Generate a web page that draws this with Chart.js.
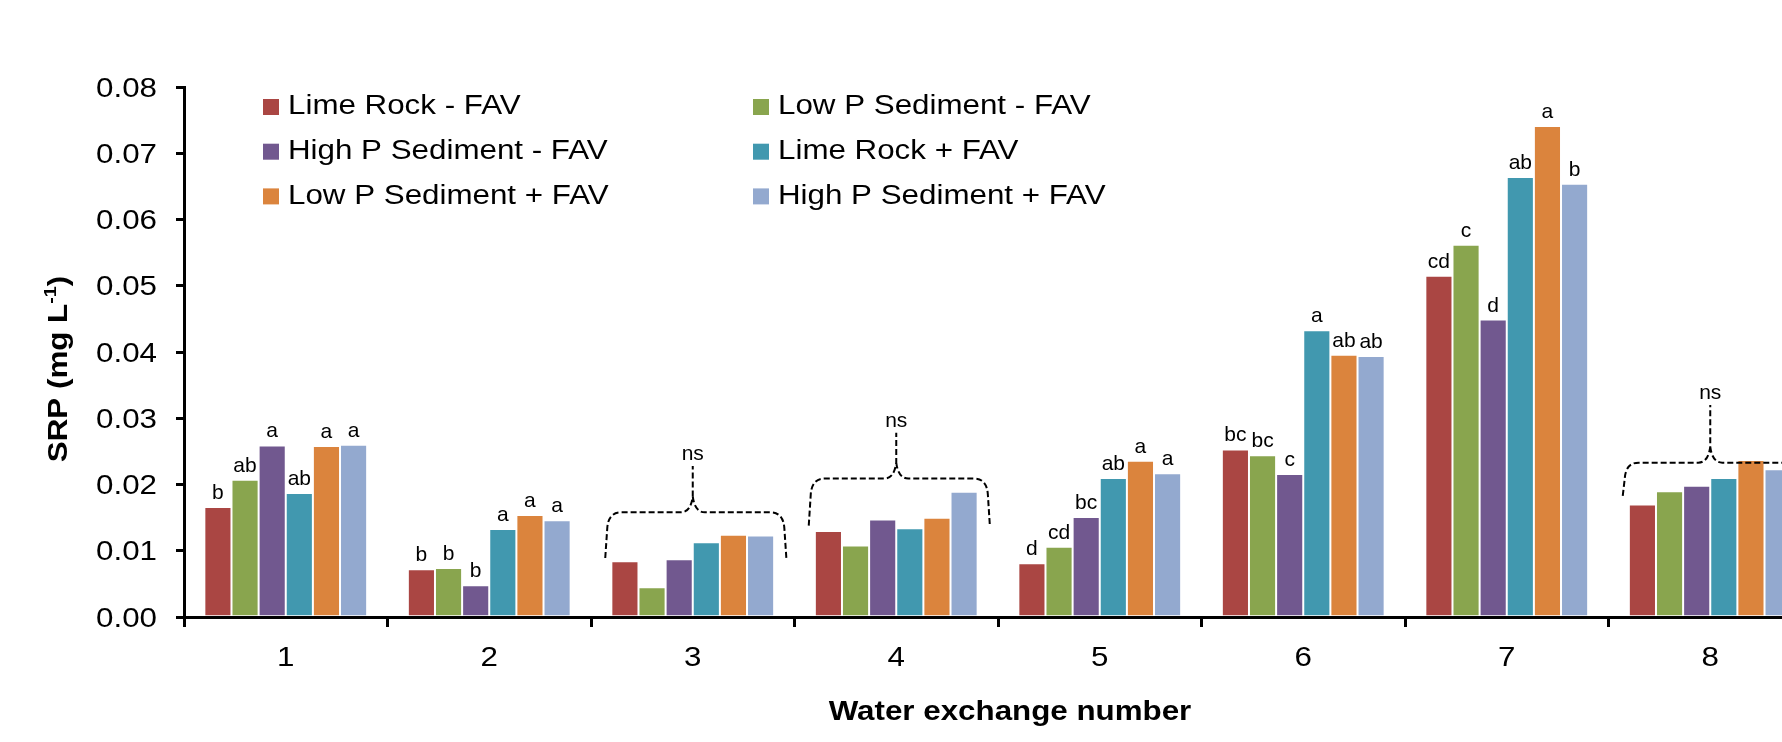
<!DOCTYPE html>
<html>
<head>
<meta charset="utf-8">
<script src="https://cdn.jsdelivr.net/npm/chart.js@4.4.1/dist/chart.umd.min.js"></script>
<style>
	html, body { margin: 0; padding: 0; overflow: hidden; background: #fff; }
	#wrap { width: 1830px; height: 742px; }
</style>
</head>
<body>
<div id="wrap"><canvas id="srpChart" width="1830" height="742"></canvas></div>
<script>
// water exchange numbers
const categories = ["1", "2", "3", "4", "5", "6", "7", "8"];
const yTicks = [0, 0.01, 0.02, 0.03, 0.04, 0.05, 0.06, 0.07, 0.08];

const seriesNames = [
	"Lime Rock - FAV",
	"Low P Sediment - FAV",
	"High P Sediment - FAV",
	"Lime Rock + FAV",
	"Low P Sediment + FAV",
	"High P Sediment + FAV",
];
const seriesColors = ["#AA4643", "#89A54E", "#71588F", "#4198AF", "#DB843D", "#93A9CF"];

const limeRockMinus = [0.0166, 0.0072, 0.0084, 0.0130, 0.0081, 0.0253, 0.0515, 0.0170];
const lowPMinus = [0.0207, 0.0074, 0.0045, 0.0108, 0.0106, 0.0244, 0.0562, 0.0190];
const highPMinus = [0.0259, 0.0048, 0.0087, 0.0147, 0.0151, 0.0216, 0.0449, 0.0198];
const limeRockPlus = [0.0187, 0.0133, 0.0113, 0.0134, 0.0210, 0.0433, 0.0664, 0.0210];
const lowPPlus = [0.0258, 0.0154, 0.0124, 0.0150, 0.0236, 0.0396, 0.0741, 0.0237];
const highPPlus = [0.0260, 0.0146, 0.0123, 0.0189, 0.0217, 0.0394, 0.0654, 0.0223];

// significance letters, one per bar
const limeRockMinusLetters = ["b", "b", "", "", "d", "bc", "cd", ""];
const lowPMinusLetters = ["ab", "b", "", "", "cd", "bc", "c", ""];
const highPMinusLetters = ["a", "b", "", "", "bc", "c", "d", ""];
const limeRockPlusLetters = ["ab", "a", "", "", "ab", "a", "ab", ""];
const lowPPlusLetters = ["a", "a", "", "", "a", "ab", "a", ""];
const highPPlusLetters = ["a", "a", "", "", "a", "ab", "b", ""];

// "ns" braces: category index, brace level, end drop, peak (in mg/L)
const braceGroups = [2, 3, 7];
const braceLevels = [0.0158, 0.0209, 0.0233];
const braceDrops = [0.0089, 0.0138, 0.0183];
const bracePeaks = [0.0228, 0.0278, 0.0320];

const allSeries = [limeRockMinus, lowPMinus, highPMinus, limeRockPlus, lowPPlus, highPPlus];
const allLetters = [
	limeRockMinusLetters,
	lowPMinusLetters,
	highPMinusLetters,
	limeRockPlusLetters,
	lowPPlusLetters,
	highPPlusLetters,
];

const FONT = '"Liberation Sans", Arial, sans-serif';
const WIDE = 1.16; // the original's text runs wide
Chart.defaults.font.family = FONT;
Chart.defaults.color = "#000";

// text drawn a bit wider than the font, like the original
function wideText(ctx, text, x, y, align) {
	const w = ctx.measureText(text).width * WIDE;
	let x0 = x;
	if (align === "center") x0 = x - w / 2;
	if (align === "right") x0 = x - w;
	ctx.save();
	ctx.translate(x0, y);
	ctx.scale(WIDE, 1);
	ctx.textAlign = "left";
	ctx.fillText(text, 0, 0);
	ctx.restore();
	return w;
}

// tick labels, letters, braces, legend and axis titles
const annotations = {
	id: "annotations",
	afterDraw(chart) {
		const { ctx, chartArea, scales } = chart;
		const x = scales.x;
		const y = scales.y;
		ctx.save();
		ctx.fillStyle = "#000";

		// tick labels
		ctx.font = "27px " + FONT;
		ctx.textBaseline = "alphabetic";
		yTicks.forEach((v) => {
			wideText(ctx, v.toFixed(2), y.right - 27, y.getPixelForValue(v) + 9.7, "right");
		});
		categories.forEach((c, i) => {
			wideText(ctx, c, x.getPixelForValue(i), x.top + 49, "center");
		});

		// letters above bars
		ctx.font = "21px " + FONT;
		ctx.textAlign = "center";
		chart.data.datasets.forEach((ds, i) => {
			chart.getDatasetMeta(i).data.forEach((bar, j) => {
				const t = allLetters[i][j];
				if (t) ctx.fillText(t, bar.x, bar.y - 8);
			});
		});

		// dashed braces with "ns"
		const w = x.width / categories.length;
		ctx.strokeStyle = "#000";
		ctx.lineWidth = 2;
		ctx.setLineDash([6, 3]);
		braceGroups.forEach((g, k) => {
			const c = x.getPixelForValue(g);
			const L = c - 0.43 * w;
			const R = c + 0.46 * w;
			const yl = y.getPixelForValue(braceLevels[k]);
			const yd = y.getPixelForValue(braceDrops[k]);
			const yp = y.getPixelForValue(bracePeaks[k]);
			ctx.beginPath();
			ctx.moveTo(L, yd);
			ctx.lineTo(L + 2, yl + 16);
			ctx.quadraticCurveTo(L + 3, yl, L + 16, yl);
			ctx.lineTo(c - 12, yl);
			ctx.quadraticCurveTo(c - 2, yl, c, yl - 16);
			ctx.lineTo(c, yp);
			ctx.moveTo(c, yl - 16);
			ctx.quadraticCurveTo(c + 2, yl, c + 12, yl);
			ctx.lineTo(R - 16, yl);
			ctx.quadraticCurveTo(R - 3, yl, R - 2, yl + 16);
			ctx.lineTo(R, yd);
			ctx.stroke();
			ctx.fillText("ns", c, yp - 6);
		});
		ctx.setLineDash([]);

		// legend, two columns inside the plot
		ctx.font = "27px " + FONT;
		ctx.textBaseline = "middle";
		chart.data.datasets.forEach((ds, i) => {
			const col = i % 2;
			const row = Math.floor(i / 2);
			const bx = chartArea.left + (col ? 569 : 79);
			const cy = chartArea.top + 20 + row * 44.7;
			ctx.fillStyle = ds.backgroundColor;
			ctx.fillRect(bx, cy - 8, 16, 16);
			ctx.fillStyle = "#000";
			wideText(ctx, ds.label, bx + 25, cy, "left");
		});

		// x axis title
		ctx.font = "bold 27px " + FONT;
		ctx.textBaseline = "alphabetic";
		wideText(ctx, "Water exchange number", (chartArea.left + chartArea.right) / 2 + 12, 720, "center");

		// y axis title with superscript
		ctx.translate(57, chartArea.bottom - 248);
		ctx.rotate(-Math.PI / 2);
		ctx.scale(WIDE, 1);
		const main = "SRP (mg L";
		const sup = "-1";
		const close = ")";
		const wMain = ctx.measureText(main).width;
		const wClose = ctx.measureText(close).width;
		ctx.font = "bold 17px " + FONT;
		const wSup = ctx.measureText(sup).width;
		let px = -(wMain + wSup + wClose) / 2;
		ctx.textAlign = "left";
		ctx.font = "bold 27px " + FONT;
		ctx.fillText(main, px, 10);
		px += wMain;
		ctx.font = "bold 17px " + FONT;
		ctx.fillText(sup, px, -1);
		px += wSup;
		ctx.font = "bold 27px " + FONT;
		ctx.fillText(close, px, 10);

		ctx.restore();
	},
};

const config = {
	type: "bar",
	data: {
		labels: categories,
		datasets: seriesNames.map((name, i) => ({
			label: name,
			data: allSeries[i],
			backgroundColor: seriesColors[i],
			borderColor: "rgba(255,255,255,0.55)",
			borderWidth: 1,
			barPercentage: 1,
			categoryPercentage: 0.8,
		})),
	},
	options: {
		responsive: false,
		animation: false,
		layout: { padding: { top: 87, right: 18, left: 0, bottom: 0 } },
		plugins: {
			legend: { display: false },
			tooltip: { enabled: false },
		},
		scales: {
			x: {
				z: 1,
				offset: true,
				grid: {
					offset: true,
					drawOnChartArea: false,
					drawTicks: true,
					tickLength: 10,
					color: "#000",
					lineWidth: 3,
				},
				border: { display: true, color: "#000", width: 3 },
				ticks: { display: false },
				afterFit: (s) => {
					s.height = 125;
				},
			},
			y: {
				z: 1,
				min: 0,
				max: 0.08,
				afterBuildTicks: (s) => {
					s.ticks = yTicks.map((v) => ({ value: v }));
				},
				grid: {
					drawOnChartArea: false,
					drawTicks: true,
					tickLength: 8,
					color: "#000",
					lineWidth: 3,
				},
				border: { display: true, color: "#000", width: 3 },
				ticks: { display: false },
				afterFit: (s) => {
					s.width = 184;
				},
			},
		},
	},
	plugins: [annotations],
};

const srpChart = new Chart(document.getElementById("srpChart"), config);
</script>
</body>
</html>
